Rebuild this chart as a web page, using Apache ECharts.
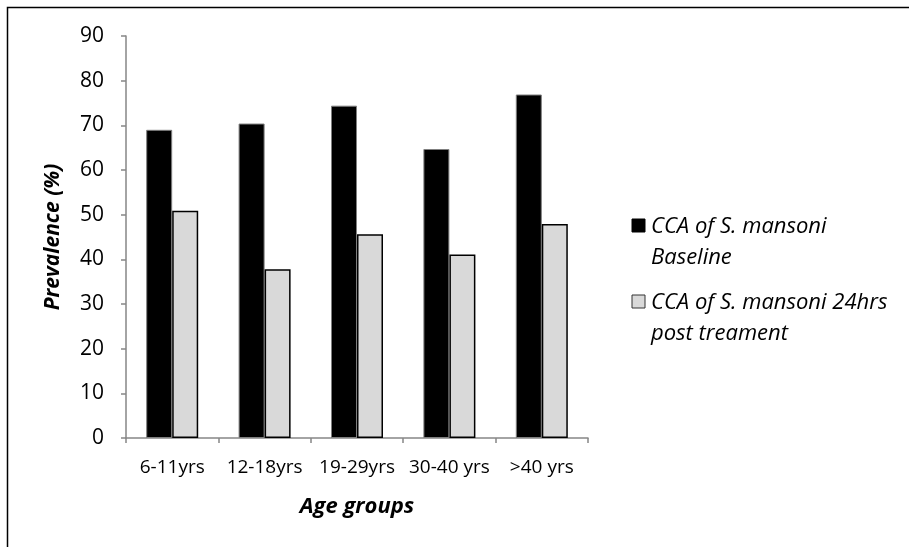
<!DOCTYPE html>
<html>
<head>
<meta charset="utf-8">
<script src="https://cdn.jsdelivr.net/npm/echarts@6/dist/echarts.min.js"></script>
<style>
html,body{margin:0;padding:0;background:#fff;}
#chart{width:909px;height:547px;}
</style>
</head>
<body>
<div id="chart"></div>
<script>
var categories = ['6-11yrs', '12-18yrs', '19-29yrs', '30-40 yrs', '>40 yrs'];
var seriesNames = ['CCA of S. mansoni\nBaseline', 'CCA of S. mansoni 24hrs\npost treament'];
var baseline = [69.0, 70.4, 74.4, 64.7, 76.9];
var postTreatment = [50.9, 37.8, 45.6, 41.1, 47.9];
var yTicks = [0, 10, 20, 30, 40, 50, 60, 70, 80, 90];

var FONT = 'Open Sans';
var chart = echarts.init(document.getElementById('chart'), null, {renderer: 'canvas'});

var fills = ['#000000', '#d9d9d9'];
var borders = ['#7f7f7f', '#000000'];

var legendGraphics = [];
var legendTops = [219, 295];
seriesNames.forEach(function (name, i) {
  legendGraphics.push({
    type: 'rect',
    shape: {x: 632, y: legendTops[i], width: 13, height: 13},
    style: {fill: fills[i], stroke: i === 0 ? '#000' : '#333', lineWidth: 1}
  });
  legendGraphics.push({
    type: 'text',
    x: 651,
    y: legendTops[i] + 7 - 15,
    style: {
      text: name,
      font: 'italic 22px ' + FONT,
      fill: '#000',
      lineHeight: 31,
      verticalAlign: 'top'
    }
  });
});

var option = {
  backgroundColor: '#fff',
  animation: false,
  textStyle: {fontFamily: FONT},
  grid: {left: 126, top: 36, right: 321, bottom: 109, containLabel: false},
  xAxis: {
    type: 'category',
    data: categories,
    name: 'Age groups',
    nameLocation: 'middle',
    nameGap: 58,
    nameTextStyle: {fontFamily: FONT, fontSize: 22, fontWeight: 'bold', fontStyle: 'italic', color: '#000'},
    axisLine: {lineStyle: {color: '#868686', width: 1.5}},
    axisTick: {show: true, alignWithLabel: false, length: 5, lineStyle: {color: '#868686', width: 1.5}},
    axisLabel: {color: '#000', fontSize: 19, fontFamily: FONT, margin: 20, interval: 0},
    splitLine: {show: false}
  },
  yAxis: {
    type: 'value',
    min: 0,
    max: 90,
    interval: 10,
    name: 'Prevalence (%)',
    nameLocation: 'middle',
    nameGap: 62,
    nameTextStyle: {fontFamily: FONT, fontSize: 21, fontWeight: 'bold', fontStyle: 'italic', color: '#000'},
    axisLine: {show: true, lineStyle: {color: '#868686', width: 1.5}},
    axisTick: {show: true, length: 5, lineStyle: {color: '#868686', width: 1.5}},
    axisLabel: {
      color: '#000', fontSize: 21, fontFamily: FONT, margin: 22,
      formatter: function (v) { return yTicks.indexOf(v) >= 0 ? String(v) : ''; }
    },
    splitLine: {show: false}
  },
  series: [
    {
      name: seriesNames[0],
      type: 'bar',
      data: baseline,
      barWidth: 26,
      barGap: '0%',
      itemStyle: {color: fills[0], borderColor: borders[0], borderWidth: 1}
    },
    {
      name: seriesNames[1],
      type: 'bar',
      data: postTreatment,
      barWidth: 26,
      barGap: '0%',
      itemStyle: {color: fills[1], borderColor: borders[1], borderWidth: 1.5}
    }
  ],
  graphic: [
    {
      type: 'rect',
      shape: {x: 7.5, y: 7.5, width: 1000, height: 1000},
      style: {fill: 'none', stroke: '#000', lineWidth: 1.5},
      silent: true
    }
  ].concat(legendGraphics)
};
chart.setOption(option);
</script>
</body>
</html>
